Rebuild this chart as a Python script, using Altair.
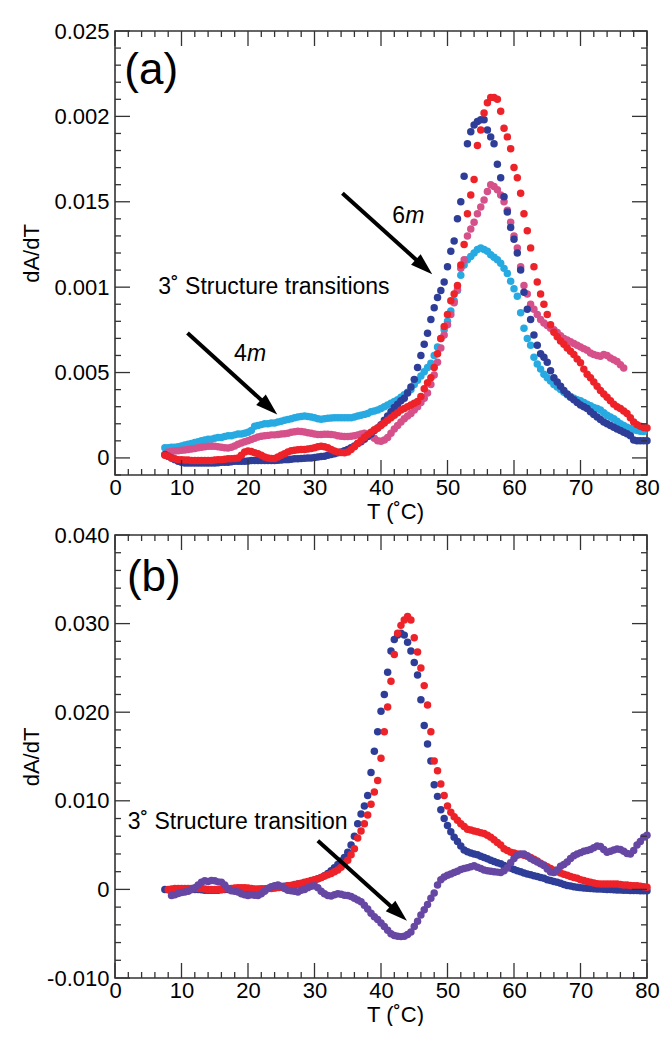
import math
import altair as alt
import pandas as pd

# ---------------- data (dA/dT values in units of 0.001) ----------------
# common temperature grid for every series: 7.5, 8.0, ... 80.0 (deg C)
T_GRID = [round(7.5 + 0.5 * i, 1) for i in range(146)]

# panel (a)
A_CYAN = [
    0.6, 0.6, 0.62, 0.62, 0.65, 0.7, 0.75, 0.8, 0.85, 0.9,
    0.95, 1.0, 1.05, 1.1, 1.1, 1.15, 1.2, 1.2, 1.25, 1.3,
    1.3, 1.35, 1.4, 1.4, 1.45, 1.5, 1.6, 1.85, 1.9, 1.95,
    2.0, 2.0, 2.05, 2.05, 2.1, 2.15, 2.2, 2.25, 2.3, 2.35,
    2.4, 2.42, 2.45, 2.42, 2.4, 2.35, 2.3, 2.27, 2.3, 2.32,
    2.34, 2.35, 2.35, 2.35, 2.35, 2.35, 2.35, 2.4, 2.45, 2.5,
    2.55, 2.6, 2.7, 2.75, 2.8, 2.9, 3.0, 3.1, 3.2, 3.3,
    3.4, 3.55, 3.7, 3.85, 4.0, 4.3, 4.55, 4.8, 5.05, 5.3,
    5.55, 6.0, 6.5, 7.0, 7.5, 8.0, 8.6, 9.2, 9.8, 10.7,
    11.3, 11.6, 11.8, 12.0, 12.2, 12.3, 12.2, 12.1, 11.9, 11.75,
    11.6, 11.4, 11.1, 10.8, 10.35, 9.9, 9.47, 8.5, 7.6, 7.0,
    6.6, 5.9, 5.5, 5.2, 4.9, 4.7, 4.5, 4.3, 4.15, 4.0,
    3.85, 3.7, 3.6, 3.5, 3.4, 3.35, 3.25, 3.15, 3.05, 2.95,
    2.9, 2.8, 2.65, 2.5, 2.4, 2.3, 2.15, 2.0, 1.9, 1.8,
    1.72, 1.65, 1.6, 1.56, 1.55, None,
]
A_PINK = [
    None, 0.35, 0.38, 0.4, 0.42, 0.45, 0.47, 0.49, 0.52, 0.55,
    0.6, 0.62, 0.65, 0.68, 0.69, 0.68, 0.65, 0.62, 0.6, 0.58,
    0.62, 0.7, 0.8, 0.88, 0.95, 1.0, 1.08, 1.15, 1.22, 1.27,
    1.3, 1.32, 1.35, 1.35, 1.37, 1.4, 1.42, 1.45, 1.5, 1.53,
    1.56, 1.55, 1.52, 1.48, 1.45, 1.4, 1.37, 1.37, 1.38, 1.38,
    1.37, 1.35, 1.3, 1.27, 1.25, 1.25, 1.27, 1.3, 1.35, 1.4,
    1.45, 1.4, 1.3, 1.15, 1.0, 0.98, 1.05, 1.2, 1.45, 1.7,
    1.9, 2.1, 2.3, 2.45, 2.6, 2.8, 3.0, 3.25, 3.5, 3.8,
    4.3, 4.85, 5.6, 6.44, 7.2, 7.8, 8.4, 9.08, 9.86, 11.1,
    11.6, 13.0, 13.4, 13.8, 14.3, 14.7, 15.1, 15.6, 16.0, 15.9,
    15.7, 15.4, 15.0, 14.5, 13.8, 13.0, 12.3, 11.2, 10.1, 9.6,
    9.0, 8.7, 8.4, 8.1, 7.9, 7.75, 7.6, 7.5, 7.35, 7.15,
    7.0, 6.9, 6.8, 6.7, 6.6, 6.5, 6.4, 6.3, 6.15, 6.05,
    6.0, 5.96, 6.05, 6.0, 5.85, 5.75, 5.65, 5.45, 5.27, None,
    None, None, None, None, None, None,
]
A_NAVY = [
    0.2, 0.1, 0.0, -0.1, -0.2, -0.25, -0.3, -0.3, -0.3, -0.3,
    -0.3, -0.3, -0.3, -0.3, -0.3, -0.3, -0.28, -0.25, -0.25, -0.25,
    -0.22, -0.2, -0.2, -0.2, -0.2, -0.18, -0.15, -0.15, -0.15, -0.15,
    -0.15, -0.15, -0.15, -0.15, -0.14, -0.12, -0.1, -0.1, -0.08, -0.05,
    -0.05, -0.03, -0.02, 0.0, 0.0, 0.02, 0.05, 0.08, 0.1, 0.15,
    0.2, 0.25, 0.3, 0.35, 0.42, 0.5, 0.6, 0.7, 0.85, 0.95,
    1.1, 1.25, 1.4, 1.6, 1.75, 1.95, 2.2, 2.45, 2.7, 2.95,
    3.15, 3.35, 3.5, 3.8, 4.15, 4.6, 5.3, 6.0, 6.66, 7.3,
    8.1, 8.8, 9.4, 9.8, 10.3, 11.2, 12.1, 12.7, 14.0, 15.0,
    16.5, 18.4, 19.1, 19.5, 19.7, 19.8, 19.8, 19.2, 18.8, 18.4,
    17.2, 16.4, 15.3, 14.4, 13.5, 12.8, 12.0, 11.0, 9.7, 8.7,
    8.1, 7.2, 6.6, 6.1, 5.9, 5.6, 5.1, 4.7, 4.45, 4.2,
    3.95, 3.75, 3.55, 3.4, 3.25, 3.1, 3.0, 2.9, 2.7, 2.55,
    2.4, 2.25, 2.1, 2.0, 1.9, 1.8, 1.7, 1.6, 1.5, 1.42,
    1.3, 1.05, 1.0, 1.0, 1.0, 1.0,
]
A_RED = [
    0.15, 0.1, 0.0, -0.05, -0.1, -0.1, -0.12, -0.12, -0.15, -0.15,
    -0.15, -0.15, -0.15, -0.15, -0.15, -0.12, -0.1, -0.1, -0.08, -0.05,
    -0.05, -0.04, 0.0, 0.15, 0.35, 0.4, 0.38, 0.3, 0.25, 0.15,
    0.05, 0.0, -0.04, -0.04, 0.05, 0.15, 0.25, 0.35, 0.42, 0.45,
    0.48, 0.5, 0.5, 0.52, 0.55, 0.6, 0.65, 0.69, 0.65, 0.6,
    0.5, 0.4, 0.35, 0.32, 0.3, 0.35, 0.5, 0.65, 0.85, 1.0,
    1.2, 1.35, 1.5, 1.65, 1.75, 1.9, 2.05, 2.2, 2.35, 2.5,
    2.65, 2.8, 2.9, 3.0, 3.1, 3.2, 3.3, 3.6, 4.05, 4.4,
    4.7, 5.3, 6.1, 7.0, 7.7, 8.4, 9.2, 9.6, 10.1, 11.3,
    12.5, 14.3, 15.4, 16.3, 18.3, 19.2, 20.2, 20.8, 21.1, 21.1,
    21.0, 20.3, 19.3, 18.8, 18.1, 17.0, 16.4, 15.5, 14.3, 13.3,
    12.3, 11.2, 10.3, 9.6, 9.0, 8.4, 7.8, 7.36, 7.1, 6.84,
    6.65, 6.44, 6.25, 6.06, 5.8, 5.57, 5.2, 4.9, 4.69, 4.45,
    4.2, 3.95, 3.75, 3.55, 3.35, 3.15, 3.0, 2.9, 2.75, 2.6,
    2.35, 2.1, 1.95, 1.85, 1.78, 1.75,
]

# panel (b)
B_NAVY = [
    0.0, -0.05, -0.1, -0.1, -0.1, -0.1, -0.05, 0.0, 0.0, 0.0,
    0.0, -0.05, -0.1, -0.1, -0.1, -0.1, -0.1, -0.05, 0.0, 0.0,
    0.0, 0.0, 0.0, 0.0, 0.0, 0.0, 0.0, 0.0, 0.0, 0.05,
    0.05, 0.1, 0.15, 0.2, 0.25, 0.3, 0.35, 0.4, 0.45, 0.5,
    0.6, 0.65, 0.75, 0.85, 0.95, 1.05, 1.2, 1.35, 1.55, 1.8,
    2.1, 2.45, 2.8, 3.2, 3.6, 4.2, 5.0, 6.0, 7.4, 8.5,
    9.4, 10.6, 13.2, 15.6, 17.8, 20.1, 22.0, 24.5, 26.9, 28.2,
    28.7, 28.9, 28.7, 27.9, 26.9, 25.6, 24.2, 21.4, 18.5, 16.4,
    14.5, 11.8, 10.5, 9.0, 8.0, 7.2, 6.5, 5.9, 5.4, 4.9,
    4.45, 4.25, 4.1, 4.0, 3.9, 3.75, 3.6, 3.45, 3.3, 3.15,
    3.0, 2.9, 2.7, 2.55, 2.4, 2.25, 2.1, 2.0, 1.85, 1.75,
    1.65, 1.55, 1.45, 1.35, 1.25, 1.1, 1.0, 0.9, 0.8, 0.7,
    0.55, 0.45, 0.38, 0.3, 0.25, 0.2, 0.15, 0.12, 0.1, 0.08,
    0.05, 0.04, 0.02, 0.0, -0.02, -0.05, -0.07, -0.08, -0.1, -0.1,
    -0.12, -0.12, -0.13, -0.14, -0.15, -0.15,
]
B_RED = [
    None, 0.0, 0.05, 0.1, 0.1, 0.1, 0.1, 0.1, 0.1, 0.1,
    0.1, 0.1, 0.05, 0.0, 0.0, 0.0, 0.0, 0.0, 0.05, 0.1,
    0.1, 0.15, 0.2, 0.2, 0.2, 0.15, 0.1, 0.05, 0.05, 0.05,
    0.05, 0.1, 0.1, 0.15, 0.2, 0.25, 0.3, 0.4, 0.45, 0.55,
    0.6, 0.7, 0.8, 0.9, 1.0, 1.1, 1.2, 1.35, 1.5, 1.65,
    1.8, 2.0, 2.2, 2.5, 2.9, 3.3, 3.9, 4.6, 5.8, 6.6,
    7.4, 8.4, 9.6, 11.0, 12.3, 14.8, 17.8, 20.6, 23.5, 26.5,
    28.9, 29.8, 30.4, 30.8, 30.4, 28.4, 26.8, 25.0, 23.0, 20.8,
    17.8, 14.5, 13.4, 11.9, 10.6, 9.4, 8.7, 8.2, 7.8, 7.4,
    7.1, 6.8, 6.7, 6.6, 6.5, 6.4, 6.3, 6.1, 5.9, 5.6,
    5.3, 5.0, 4.6, 4.4, 4.2, 4.1, 4.0, 3.95, 3.85, 3.75,
    3.6, 3.4, 3.2, 2.95, 2.75, 2.55, 2.35, 2.15, 2.0, 1.85,
    1.7, 1.6, 1.45, 1.35, 1.25, 1.1, 1.0, 0.9, 0.8, 0.72,
    0.65, 0.6, 0.6, 0.6, 0.6, 0.6, 0.6, 0.55, 0.5, 0.5,
    0.45, 0.42, 0.4, 0.35, 0.3, 0.25,
]
B_PURPLE = [
    None, None, -0.7, -0.6, -0.45, -0.35, -0.3, -0.2, 0.0, 0.2,
    0.5, 0.8, 0.98, 0.9, 1.0, 0.98, 0.85, 0.8, 0.5, 0.1,
    -0.15, -0.2, -0.3, -0.5, -0.6, -0.7, -0.6, -0.65, -0.7, -0.5,
    -0.2, 0.1, 0.3, 0.42, 0.5, 0.35, 0.1, -0.1, -0.15, -0.2,
    -0.3, -0.1, 0.0, 0.2, 0.35, 0.42, 0.2, -0.2, -0.5, -0.7,
    -0.75, -0.6, -0.5, -0.55, -0.65, -0.7, -0.8, -1.0, -1.2, -1.4,
    -1.8, -2.2, -2.7, -3.1, -3.4, -3.8, -4.2, -4.6, -5.0, -5.2,
    -5.3, -5.33, -5.3, -5.1, -4.8, -4.2, -3.6, -2.9, -2.3, -1.7,
    -1.0, -0.4, 0.5, 1.1, 1.4, 1.6, 1.75, 1.9, 2.05, 2.25,
    2.35, 2.45, 2.55, 2.67, 2.5, 2.35, 2.2, 2.1, 2.05, 2.0,
    1.95, 1.92, 2.1, 2.45, 3.0, 3.5, 3.85, 4.0, 3.99, 3.8,
    3.5, 3.3, 3.1, 2.9, 2.7, 2.3, 1.95, 1.9, 2.2, 2.6,
    2.8, 3.1, 3.5, 3.8, 4.0, 4.15, 4.3, 4.4, 4.5, 4.7,
    4.9, 4.85, 4.5, 4.2, 4.3, 4.45, 4.55, 4.5, 4.3, 4.05,
    4.0, 4.4, 5.0, 5.4, 5.9, 6.1,
]

# axis ticks and labels
X_MAJOR = [0, 10, 20, 30, 40, 50, 60, 70, 80]
X_MINOR = [2, 4, 6, 8, 12, 14, 16, 18, 22, 24, 26, 28, 32, 34, 36, 38,
           42, 44, 46, 48, 52, 54, 56, 58, 62, 64, 66, 68, 72, 74, 76, 78]
YA_MAJOR = [0.0, 0.005, 0.010, 0.015, 0.020, 0.025]
YA_LABELS = ["0", "0.005", "0.001", "0.015", "0.002", "0.025"]
YA_MINOR = [-0.001, 0.001, 0.002, 0.003, 0.004, 0.006, 0.007, 0.008, 0.009,
            0.011, 0.012, 0.013, 0.014, 0.016, 0.017, 0.018, 0.019,
            0.021, 0.022, 0.023, 0.024]
YB_MAJOR = [-0.010, 0.0, 0.010, 0.020, 0.030, 0.040]
YB_LABELS = ["-0.010", "0", "0.010", "0.020", "0.030", "0.040"]
YB_MINOR = [-0.008, -0.006, -0.004, -0.002, 0.002, 0.004, 0.006, 0.008,
            0.012, 0.014, 0.016, 0.018, 0.022, 0.024, 0.026, 0.028,
            0.032, 0.034, 0.036, 0.038]

# ---------------- styling ----------------
FONT = "Liberation Sans"
FRAME = "#333333"
W = 532
H_A = 444
H_B = 443
X_DOM = [0, 80]
YA_DOM = [-0.001, 0.025]
YB_DOM = [-0.010, 0.040]
FS = 22
FS_NOTE = 23

COLORS = {"a_cyan": "#27AAE1", "a_pink": "#D6508A", "a_navy": "#2E3E98", "a_red": "#EE2229",
          "b_navy": "#2E3E98", "b_red": "#EE2229", "b_purple": "#6647A3"}


def long_df(series):
    rows = []
    for name, vals in series:
        assert len(vals) == len(T_GRID), (name, len(vals))
        for t, v in zip(T_GRID, vals):
            if v is not None:
                rows.append({"T": t, "dA": v / 1000.0, "series": name})
    return pd.DataFrame(rows)


def label_expr(values, labels):
    parts = [f"abs(datum.value - ({v})) < 1e-9 ? '{lab}'" for v, lab in zip(values, labels)]
    return " : ".join(parts) + " : ''"


AXIS_STYLE = dict(labelFont=FONT, titleFont=FONT, labelFontSize=FS, titleFontSize=FS,
                  labelColor="black", titleColor="black", titleFontWeight="normal",
                  ticks=False, domain=False, grid=False, labelFlush=False)


def panel(df, ydom, ymajor, ylabels, yminor, H, ytitle_pad, texts, arrows):
    xs = alt.Scale(domain=X_DOM, nice=False, zero=False)
    ys = alt.Scale(domain=ydom, nice=False, zero=False)
    xaxis = alt.Axis(values=X_MAJOR, format="d", title="T (˚C)", labelPadding=2,
                     titlePadding=3, titleX=W / 2 + 14, **AXIS_STYLE)
    yaxis = alt.Axis(values=ymajor, labelExpr=label_expr(ymajor, ylabels), title="dA/dT",
                     labelPadding=6, titlePadding=ytitle_pad, **AXIS_STYLE)

    def X(field):
        return alt.X(field, scale=xs, axis=xaxis)

    def Y(field):
        return alt.Y(field, scale=ys, axis=yaxis)

    points = alt.Chart(df).mark_circle(size=56, opacity=1).encode(
        x=X("T:Q"), y=Y("dA:Q"),
        color=alt.Color("series:N", scale=alt.Scale(domain=list(COLORS.keys()),
                                                    range=list(COLORS.values())),
                        legend=None),
    )

    layers = [points]
    # inward tick marks on all four sides
    for vals, L in [(X_MAJOR, 15), (X_MINOR, 6)]:
        base = alt.Chart(pd.DataFrame({"v": vals})).mark_rule(color=FRAME, strokeWidth=1.3)
        layers.append(base.encode(x=X("v:Q"), y=alt.value(H), y2=alt.value(H - L)))
        layers.append(base.encode(x=X("v:Q"), y=alt.value(0), y2=alt.value(L)))
    for vals, L in [(ymajor, 15), (yminor, 6)]:
        base = alt.Chart(pd.DataFrame({"v": vals})).mark_rule(color=FRAME, strokeWidth=1.3)
        layers.append(base.encode(y=Y("v:Q"), x=alt.value(0), x2=alt.value(L)))
        layers.append(base.encode(y=Y("v:Q"), x=alt.value(W), x2=alt.value(W - L)))

    # text annotations
    for (tx, ty, txt, size, style, dx) in texts:
        layers.append(
            alt.Chart(pd.DataFrame({"x": [tx], "y": [ty], "t": [txt]}))
            .mark_text(align="left", baseline="alphabetic", font=FONT, fontSize=size,
                       fontStyle=style, color="black", dx=dx)
            .encode(x=X("x:Q"), y=Y("y:Q"), text="t:N"))

    # arrows
    sx = W / (X_DOM[1] - X_DOM[0])
    sy = H / (ydom[1] - ydom[0])
    for (start, tip) in arrows:
        dxp = (tip[0] - start[0]) * sx
        dyp = -(tip[1] - start[1]) * sy
        ang = math.degrees(math.atan2(dxp, -dyp)) % 360
        length = math.hypot(dxp, dyp)
        frac = (length - 12) / length
        end = (start[0] + frac * (tip[0] - start[0]), start[1] + frac * (tip[1] - start[1]))
        layers.append(
            alt.Chart(pd.DataFrame({"x": [start[0]], "y": [start[1]],
                                    "x2": [end[0]], "y2": [end[1]]}))
            .mark_rule(color="black", strokeWidth=4, strokeCap="butt")
            .encode(x=X("x:Q"), y=Y("y:Q"), x2="x2:Q", y2="y2:Q"))
        layers.append(
            alt.Chart(pd.DataFrame({"x": [tip[0]], "y": [tip[1]]}))
            .mark_point(shape="M0,0L0.65,2L-0.65,2Z", size=484, filled=True,
                        color="black", opacity=1, strokeWidth=0, angle=ang)
            .encode(x=X("x:Q"), y=Y("y:Q")))

    return alt.layer(*layers).properties(width=W, height=H)


df_a = long_df([("a_cyan", A_CYAN), ("a_pink", A_PINK), ("a_navy", A_NAVY), ("a_red", A_RED)])
df_b = long_df([("b_navy", B_NAVY), ("b_red", B_RED), ("b_purple", B_PURPLE)])

texts_a = [
    (1.4, 0.0219, "(a)", 44, "normal", 0),
    (6.5, 0.00962, "3˚ Structure transitions", FS_NOTE, "normal", 0),
    (41.7, 0.01377, "6", FS_NOTE, "normal", 0),
    (41.7, 0.01377, "m", FS_NOTE, "italic", 13),
    (17.9, 0.0057, "4", FS_NOTE, "normal", 0),
    (17.9, 0.0057, "m", FS_NOTE, "italic", 13),
]
arrows_a = [((34.2, 0.0155), (47.7, 0.01076)), ((10.9, 0.00732), (24.4, 0.00254))]

texts_b = [
    (1.8, 0.0337, "(b)", 44, "normal", 0),
    (1.9, 0.00684, "3˚ Structure transition", FS_NOTE, "normal", 0),
]
arrows_b = [((30.5, 0.0055), (43.9, -0.00353))]

pa = panel(df_a, YA_DOM, YA_MAJOR, YA_LABELS, YA_MINOR, H_A, 10, texts_a, arrows_a)
pb = panel(df_b, YB_DOM, YB_MAJOR, YB_LABELS, YB_MINOR, H_B, 3, texts_b, arrows_b)

chart = alt.vconcat(pa, pb, spacing=0, background="white").resolve_scale(
    x="independent", y="independent"
).properties(
    padding={"left": 11, "top": 11, "right": 0, "bottom": 0}
).configure_view(
    stroke=FRAME, strokeWidth=1.6
)

chart.save("out.html", embed_options={"renderer": "svg", "actions": False})
